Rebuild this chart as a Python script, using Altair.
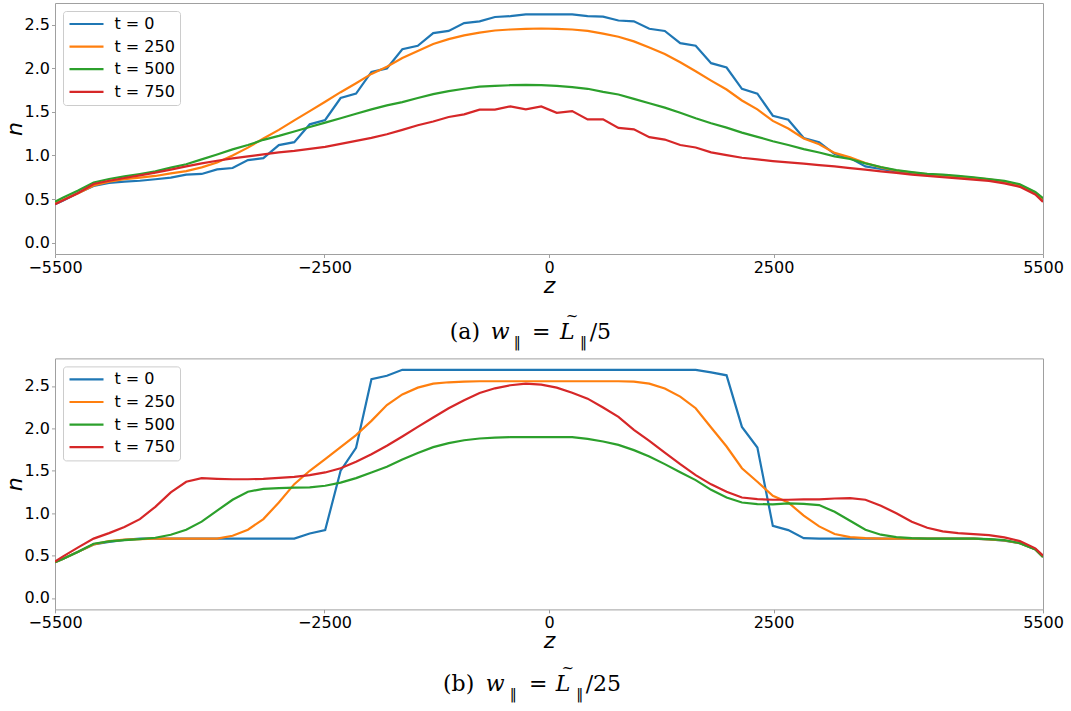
import altair as alt
import pandas as pd

# sample positions along z (boundary, 64 cell centres, boundary)
Z = [-5500, -5414, -5242, -5070, -4898, -4727, -4555, -4383, -4211, -4039, -3867,
     -3695, -3523, -3352, -3180, -3008, -2836, -2664, -2492, -2320, -2148, -1977,
     -1805, -1633, -1461, -1289, -1117, -945, -773, -602, -430, -258, -86,
     86, 258, 430, 602, 773, 945, 1117, 1289, 1461, 1633, 1805, 1977, 2148,
     2320, 2492, 2664, 2836, 3008, 3180, 3352, 3523, 3695, 3867, 4039, 4211,
     4383, 4555, 4727, 4898, 5070, 5242, 5414, 5500]

SERIES = ["t = 0", "t = 250", "t = 500", "t = 750"]
COLORS = ["#1f77b4", "#ff7f0e", "#2ca02c", "#d62728"]
Y_TICKS = [0.0, 0.5, 1.0, 1.5, 2.0, 2.5]
X_TICKS = [-5500, -2500, 0, 2500, 5500]

# ---- panel (a): w = L/5 ----
A_T0 = [0.44, 0.48, 0.57, 0.65, 0.685, 0.70, 0.71, 0.727, 0.746, 0.78, 0.788,
        0.84, 0.856, 0.947, 0.97, 1.12, 1.153, 1.358, 1.408, 1.66, 1.71, 1.96,
        2.0, 2.22, 2.26, 2.405, 2.43, 2.52, 2.54, 2.59, 2.60, 2.62, 2.62,
        2.62, 2.62, 2.60, 2.595, 2.55, 2.54, 2.455, 2.43, 2.29, 2.26, 2.06,
        2.01, 1.766, 1.71, 1.457, 1.41, 1.20, 1.153, 1.016, 0.97, 0.875, 0.845,
        0.815, 0.795, 0.78, 0.765, 0.75, 0.737, 0.72, 0.695, 0.655, 0.567, 0.49]
A_T250 = [0.45, 0.49, 0.567, 0.655, 0.70, 0.727, 0.746, 0.765, 0.795, 0.82, 0.864,
          0.92, 1.00, 1.09, 1.195, 1.294, 1.404, 1.51, 1.617, 1.727, 1.83, 1.937,
          2.02, 2.12, 2.20, 2.28, 2.336, 2.38, 2.41, 2.435, 2.447, 2.454, 2.458,
          2.454, 2.447, 2.43, 2.40, 2.363, 2.31, 2.24, 2.165, 2.07, 1.967, 1.86,
          1.758, 1.632, 1.53, 1.397, 1.31, 1.195, 1.13, 1.03, 0.978, 0.913, 0.864,
          0.826, 0.805, 0.785, 0.772, 0.758, 0.744, 0.725, 0.70, 0.66, 0.575, 0.50]
A_T500 = [0.47, 0.514, 0.597, 0.69, 0.73, 0.76, 0.788, 0.818, 0.86, 0.90, 0.955,
          1.012, 1.07, 1.12, 1.18, 1.225, 1.275, 1.328, 1.377, 1.427, 1.48, 1.53,
          1.575, 1.613, 1.66, 1.705, 1.74, 1.766, 1.79, 1.80, 1.807, 1.81, 1.807,
          1.80, 1.785, 1.766, 1.73, 1.70, 1.65, 1.60, 1.55, 1.49, 1.427, 1.37,
          1.32, 1.263, 1.214, 1.164, 1.12, 1.073, 1.035, 0.99, 0.96, 0.91, 0.868,
          0.833, 0.81, 0.79, 0.78, 0.765, 0.75, 0.73, 0.708, 0.67, 0.582, 0.51]
A_T750 = [0.44, 0.483, 0.57, 0.673, 0.71, 0.742, 0.772, 0.803, 0.837, 0.875, 0.91,
          0.94, 0.967, 0.99, 1.012, 1.035, 1.054, 1.077, 1.10, 1.134, 1.168, 1.202,
          1.244, 1.294, 1.347, 1.39, 1.442, 1.473, 1.526, 1.526, 1.564, 1.53, 1.564,
          1.49, 1.51, 1.415, 1.415, 1.317, 1.30, 1.21, 1.183, 1.12, 1.092, 1.036,
          1.005, 0.974, 0.955, 0.936, 0.92, 0.906, 0.89, 0.875, 0.856, 0.837, 0.818,
          0.80, 0.78, 0.765, 0.75, 0.738, 0.723, 0.708, 0.68, 0.64, 0.552, 0.468]

# ---- panel (b): w = L/25 ----
B_T0 = [0.42, 0.46, 0.546, 0.632, 0.66, 0.685, 0.70, 0.70, 0.70, 0.70, 0.70,
        0.70, 0.70, 0.70, 0.70, 0.70, 0.70, 0.76, 0.80, 1.50, 1.77, 2.58,
        2.62, 2.69, 2.69, 2.69, 2.69, 2.69, 2.69, 2.69, 2.69, 2.69, 2.69,
        2.69, 2.69, 2.69, 2.69, 2.69, 2.69, 2.69, 2.69, 2.69, 2.69, 2.66,
        2.625, 2.017, 1.774, 0.85, 0.80, 0.706, 0.70, 0.70, 0.70, 0.70, 0.70,
        0.70, 0.70, 0.70, 0.70, 0.70, 0.70, 0.69, 0.675, 0.647, 0.575, 0.485]
B_T250 = [0.42, 0.46, 0.546, 0.632, 0.67, 0.687, 0.695, 0.70, 0.70, 0.70, 0.70,
          0.70, 0.734, 0.805, 0.93, 1.126, 1.342, 1.50, 1.637, 1.778, 1.92, 2.088,
          2.275, 2.40, 2.48, 2.527, 2.543, 2.55, 2.555, 2.555, 2.555, 2.555, 2.555,
          2.555, 2.555, 2.555, 2.555, 2.555, 2.55, 2.527, 2.47, 2.374, 2.237, 2.01,
          1.786, 1.53, 1.37, 1.205, 1.126, 0.97, 0.844, 0.754, 0.718, 0.706, 0.70,
          0.70, 0.70, 0.70, 0.70, 0.70, 0.70, 0.69, 0.678, 0.647, 0.575, 0.485]
B_T500 = [0.42, 0.46, 0.546, 0.64, 0.667, 0.683, 0.695, 0.71, 0.746, 0.805, 0.90,
          1.03, 1.158, 1.252, 1.287, 1.295, 1.30, 1.303, 1.323, 1.36, 1.413, 1.48,
          1.546, 1.633, 1.71, 1.778, 1.825, 1.86, 1.88, 1.89, 1.896, 1.896, 1.896,
          1.896, 1.896, 1.876, 1.845, 1.805, 1.743, 1.668, 1.578, 1.483, 1.39, 1.275,
          1.185, 1.126, 1.107, 1.103, 1.115, 1.11, 1.095, 1.016, 0.91, 0.805, 0.746,
          0.718, 0.706, 0.70, 0.70, 0.70, 0.70, 0.695, 0.683, 0.647, 0.573, 0.483]
B_T750 = [0.43, 0.487, 0.597, 0.70, 0.765, 0.836, 0.93, 1.075, 1.244, 1.37, 1.413,
          1.405, 1.40, 1.40, 1.405, 1.417, 1.428, 1.448, 1.48, 1.53, 1.605, 1.695,
          1.794, 1.903, 2.017, 2.127, 2.237, 2.33, 2.417, 2.472, 2.508, 2.527, 2.516,
          2.48, 2.42, 2.35, 2.245, 2.135, 1.982, 1.852, 1.715, 1.578, 1.448, 1.34,
          1.252, 1.185, 1.166, 1.158, 1.158, 1.162, 1.162, 1.173, 1.177, 1.158, 1.087,
          1.00, 0.90, 0.828, 0.785, 0.765, 0.754, 0.742, 0.714, 0.671, 0.585, 0.50]


def to_long(series_values):
    rows = []
    for name, vals in zip(SERIES, series_values):
        for z, n in zip(Z, vals):
            rows.append({"z": z, "n": n, "series": name})
    return pd.DataFrame(rows)


W = 988
H = 251
SERIF = "DejaVu Serif"


def text_piece(txt, x, y, size, style="normal", align="left", font=SERIF):
    return (
        alt.Chart(pd.DataFrame({"k": [0]}))
        .mark_text(text=txt, font=font, fontSize=size, fontStyle=style,
                   align=align, baseline="alphabetic", color="black")
        .encode(x=alt.value(x), y=alt.value(y))
    )


def caption(label, denom, xs, y):
    x_lab, x_w, x_sub1, x_eq, x_L, x_sub2, x_den = xs
    return [
        text_piece(label, x_lab, y, 22),
        text_piece("w", x_w, y, 22, "italic"),
        text_piece("\u2016", x_sub1, y + 8, 14, font="DejaVu Sans"),
        text_piece("=", x_eq, y, 22),
        text_piece("L", x_L, y, 22, "italic"),
        text_piece("~", x_L + 12, y - 18, 15, align="center"),
        text_piece("\u2016", x_sub2, y + 8, 14, font="DejaVu Sans"),
        text_piece("/" + denom, x_den, y, 22),
    ]


def panel(df, ymin, ymax, label, denom, xs, cap_y):
    lines = alt.Chart(df).mark_line(strokeWidth=2.2, clip=True).encode(
        x=alt.X("z:Q",
                scale=alt.Scale(domain=[-5500, 5500], nice=False, zero=False),
                axis=alt.Axis(values=X_TICKS, format="d", title="z",
                              labelFlush=False, labelOverlap=False,
                              titlePadding=0)),
        y=alt.Y("n:Q",
                scale=alt.Scale(domain=[ymin, ymax], nice=False, zero=False),
                axis=alt.Axis(values=Y_TICKS, format=".1f", title="n",
                              titlePadding=-2)),
        color=alt.Color("series:N", title=None,
                        scale=alt.Scale(domain=SERIES, range=COLORS),
                        legend=alt.Legend(orient="top-left", offset=7.5,
                                          symbolType="stroke", symbolSize=1156,
                                          symbolStrokeWidth=2.2, clipHeight=16,
                                          rowPadding=6.6, labelFontSize=16,
                                          labelFont="DejaVu Sans", labelColor="black",
                                          labelOffset=9.5, padding=5,
                                          strokeColor="#cccccc", fillColor="white",
                                          cornerRadius=3)),
    )
    return alt.layer(lines, *caption(label, denom, xs, cap_y)).properties(width=W, height=H)


pa = panel(to_long([A_T0, A_T250, A_T500, A_T750]), -0.131, 2.751, "(a)", "5",
           [394.7, 435.7, 458.7, 477, 505, 525, 534.7], 336)
pb = panel(to_long([B_T0, B_T250, B_T500, B_T750]), -0.1345, 2.8245, "(b)", "25",
           [388, 430.7, 454.7, 474, 500.7, 521.3, 530.7], 333)

chart = (
    alt.vconcat(pa, pb, spacing=104.4, bounds="flush")
    .resolve_scale(color="independent")
    .resolve_legend(color="independent")
    .properties(padding={"left": 2, "top": 2, "right": 5, "bottom": 5},
                background="white")
    .configure_view(stroke="#a0a0a0", strokeWidth=1)
    .configure_axis(domain=False, grid=False, tickColor="#a0a0a0", tickSize=3.5,
                    labelPadding=2, labelFont="DejaVu Sans", labelFontSize=16,
                    labelColor="black", titleFont="DejaVu Sans", titleFontSize=22,
                    titleFontStyle="italic", titleFontWeight="normal",
                    titleColor="black")
)

chart.save("out.html", embed_options={"renderer": "svg", "actions": False})
